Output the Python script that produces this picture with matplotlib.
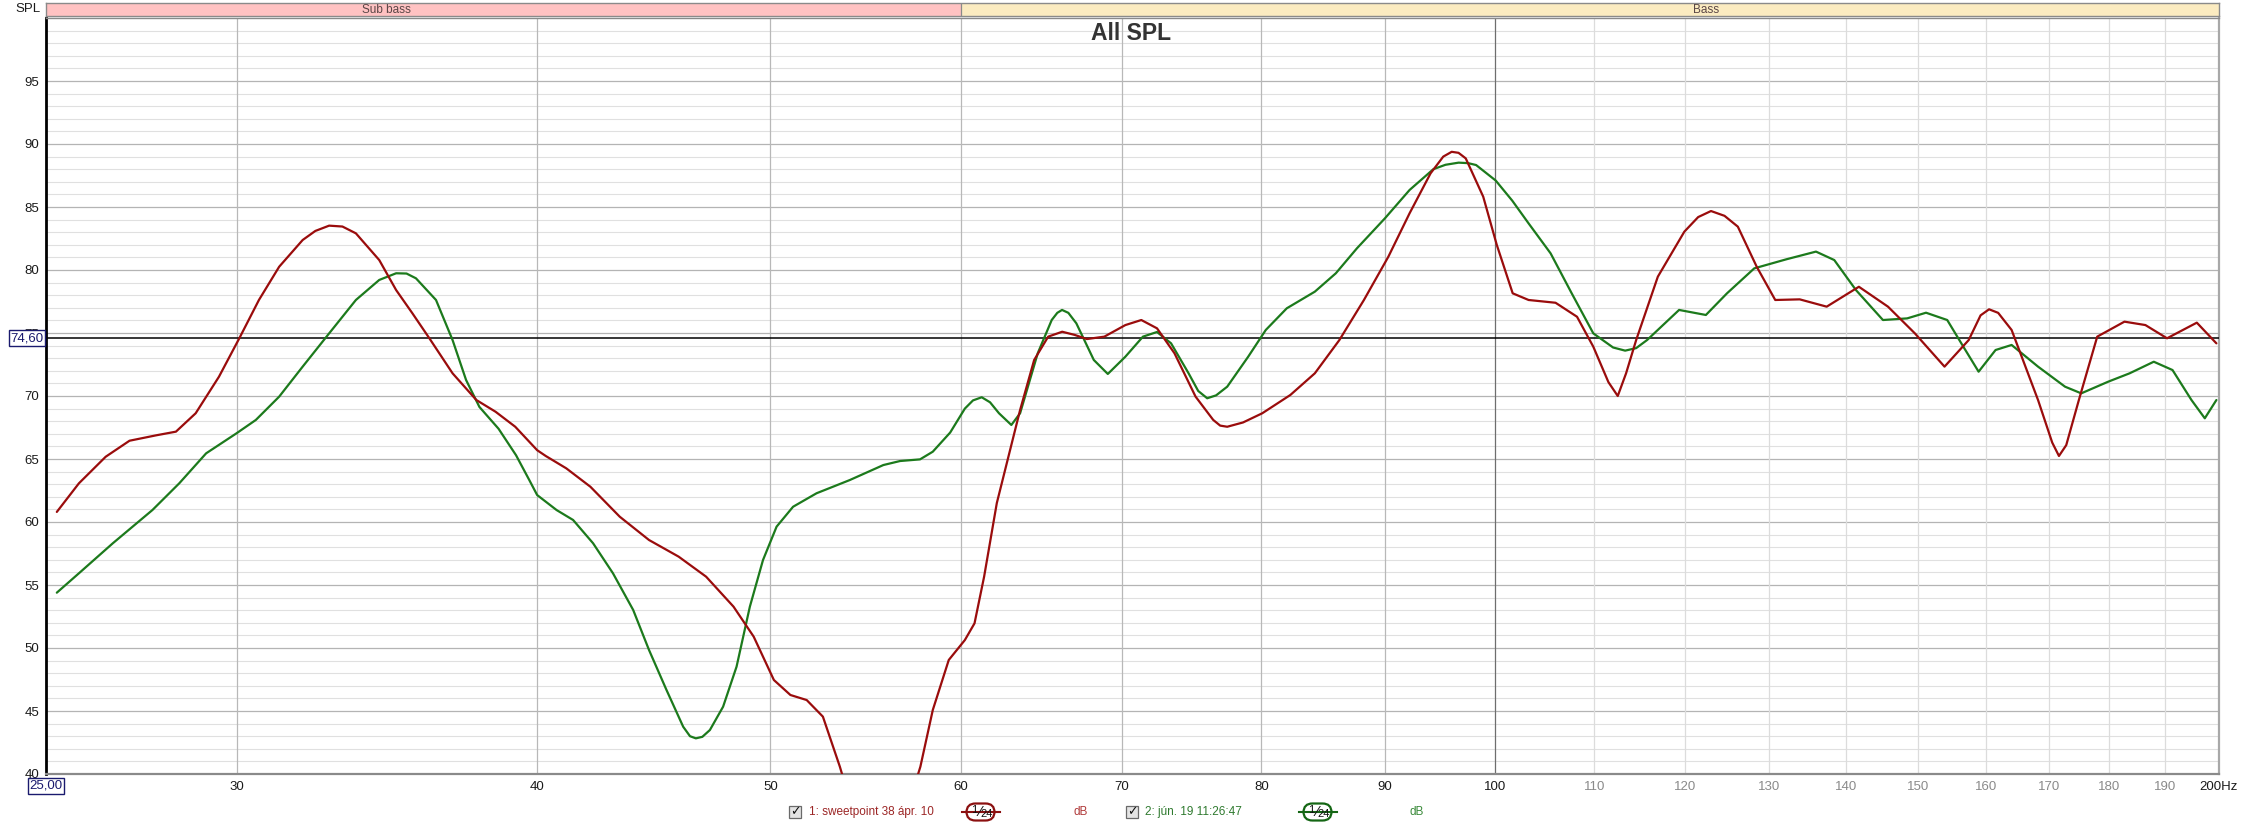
import matplotlib
matplotlib.use('Agg')
import matplotlib.pyplot as plt
from matplotlib.patches import Rectangle, FancyBboxPatch
from matplotlib.lines import Line2D
from matplotlib.ticker import NullLocator, NullFormatter

# ---------------- data ----------------
freq_1 = [25.26, 25.8, 26.47, 27.08, 27.78, 28.31, 28.85, 29.5, 30.08, 30.65, 31.25, 31.96,
          32.35, 32.78, 33.2, 33.63, 34.39, 34.95, 35.5, 36.08, 36.89, 37.74, 38.44, 39.17,
          40.0, 40.33, 41.13, 42.09, 43.29, 44.52, 45.8, 47.02, 48.27, 49.21, 50.17, 50.97,
          51.77, 52.58, 53.44, 55.5, 57.72, 58.41, 59.31, 60.23, 60.79, 61.35, 62.1, 63.5,
          64.36, 65.23, 66.11, 66.9, 67.69, 68.83, 70.23, 71.31, 72.39, 73.61, 75.11, 76.39,
          76.9, 77.42, 78.6, 80.06, 82.24, 84.19, 86.19, 88.24, 90.33, 92.18, 94.05, 95.2,
          95.97, 96.6, 97.27, 98.91, 100.2, 101.74, 103.3, 106.0, 108.2, 109.9, 111.5, 112.5,
          113.4, 114.5, 116.9, 119.9, 121.5, 123.0, 124.6, 126.2, 128.5, 130.8, 133.9, 137.4,
          141.7, 145.7, 149.5, 153.8, 157.4, 159.2, 160.5, 161.9, 164.0, 168.2, 170.5, 171.6,
          172.8, 174.9, 178.0, 182.7, 186.4, 190.3, 195.8, 199.5]
spl_1 = [60.8, 63.07, 65.18, 66.45, 66.88, 67.17, 68.63, 71.53, 74.58, 77.62, 80.26, 82.38,
         83.1, 83.52, 83.45, 82.91, 80.79, 78.41, 76.56, 74.58, 71.8, 69.68, 68.75, 67.56,
         65.7, 65.24, 64.26, 62.8, 60.42, 58.57, 57.25, 55.66, 53.28, 50.9, 47.46, 46.27,
         45.87, 44.55, 40.58, 30.0, 40.58, 45.08, 49.05, 50.63, 51.96, 55.66, 61.5, 68.89,
         72.86, 74.71, 75.1, 74.85, 74.52, 74.71, 75.63, 76.03, 75.37, 73.39, 69.95, 68.1,
         67.65, 67.56, 67.9, 68.63, 70.08, 71.8, 74.44, 77.62, 81.06, 84.5, 87.67, 89.0,
         89.38, 89.3, 88.86, 85.82, 82.0, 78.15, 77.62, 77.4, 76.29, 73.91, 71.1, 70.0,
         71.8, 74.44, 79.47, 83.04, 84.2, 84.68, 84.3, 83.44, 80.26, 77.62, 77.67, 77.09,
         78.67, 77.09, 74.97, 72.33, 74.44, 76.4, 76.88, 76.6, 75.24, 69.68, 66.3, 65.24,
         66.1, 69.68, 74.71, 75.9, 75.63, 74.58, 75.82, 74.18]

freq_2 = [25.26, 25.8, 26.65, 27.68, 28.4, 29.14, 30.0, 30.56, 31.25, 31.96, 32.78, 33.63,
          34.39, 34.95, 35.3, 35.62, 36.31, 36.89, 37.37, 37.85, 38.55, 39.2, 39.7, 40.0,
          40.75, 41.4, 42.2, 43.01, 43.85, 44.52, 45.27, 46.0, 46.3, 46.56, 46.85, 47.19,
          47.79, 48.41, 49.03, 49.65, 50.3, 51.1, 52.26, 53.95, 55.71, 56.61, 57.7, 58.41,
          59.39, 60.23, 60.7, 61.21, 61.7, 62.23, 62.97, 63.5, 64.58, 65.45, 65.8, 66.1,
          66.5, 67.01, 68.14, 69.06, 70.23, 71.42, 72.39, 73.37, 74.61, 75.3, 75.95, 76.6,
          77.42, 78.99, 80.33, 81.96, 84.19, 85.9, 87.65, 90.03, 92.18, 94.3, 95.4, 96.61,
          97.5, 98.24, 100.1, 101.7, 103.3, 105.5, 107.65, 109.9, 112.0, 113.3, 114.5, 115.7,
          119.3, 122.4, 124.9, 128.2, 132.2, 136.0, 138.4, 141.3, 145.0, 148.4, 151.1, 154.2,
          156.6, 158.9, 161.5, 164.0, 168.2, 172.6, 175.3, 179.9, 183.6, 187.9, 191.3, 194.8,
          197.3, 199.5]
spl_2 = [54.39, 55.93, 58.31, 60.95, 63.07, 65.45, 67.04, 68.1, 69.95, 72.33, 74.97, 77.62,
         79.21, 79.74, 79.72, 79.34, 77.62, 74.44, 71.27, 69.13, 67.4, 65.3, 63.33, 62.14,
         60.95, 60.16, 58.31, 55.93, 53.02, 49.84, 46.67, 43.75, 43.0, 42.83, 42.95, 43.49,
         45.34, 48.52, 53.28, 56.98, 59.63, 61.21, 62.28, 63.33, 64.52, 64.84, 64.97, 65.58,
         67.1, 69.0, 69.65, 69.9, 69.5, 68.63, 67.7, 68.63, 73.39, 76.03, 76.6, 76.83,
         76.6, 75.77, 72.86, 71.75, 73.12, 74.71, 75.08, 74.18, 71.8, 70.4, 69.82, 70.05,
         70.74, 73.12, 75.24, 76.96, 78.28, 79.74, 81.72, 84.1, 86.35, 88.0, 88.35, 88.52,
         88.48, 88.33, 87.1, 85.5, 83.7, 81.32, 78.15, 74.97, 73.85, 73.6, 73.8, 74.44,
         76.83, 76.43, 78.15, 80.13, 80.85, 81.46, 80.79, 78.41, 76.03, 76.16, 76.61, 76.03,
         73.91, 71.93, 73.65, 74.05, 72.33, 70.74, 70.21, 71.14, 71.8, 72.72, 72.06, 69.68,
         68.23, 69.68]

x_ticks = [30, 40, 50, 60, 70, 80, 90, 100, 110, 120, 130, 140, 150, 160, 170, 180, 190, 200]
x_tick_labels = ['30', '40', '50', '60', '70', '80', '90', '100', '110', '120', '130', '140',
                 '150', '160', '170', '180', '190', '200Hz']
y_ticks = [40, 45, 50, 55, 60, 65, 70, 75, 80, 85, 90, 95]
y_tick_labels = ['40', '45', '50', '55', '60', '65', '70', '75', '80', '85', '90', '95']
band_names = ['Sub bass', 'Bass']
band_lo = [20, 60]
band_hi = [60, 250]
ref_level = 74.60
series_names = ['1: sweetpoint 38 ápr. 10', '2: jún. 19 11:26:47']
title = 'All SPL'

# ---------------- layout ----------------
W, H, DPI = 2241, 826, 100
plt.rcParams['font.family'] = ['Liberation Sans', 'DejaVu Sans']
fig = plt.figure(figsize=(W / DPI, H / DPI), dpi=DPI)
fig.patch.set_facecolor('white')


def fx(x):
    return x / W


def fy(y):
    return 1 - y / H


L, R, T, B = 46, 2219, 18, 774
ax = fig.add_axes([fx(L), fy(B), (R - L) / W, (B - T) / H])
ax.set_xscale('log')
ax.set_xlim(25, 200)
ax.set_ylim(40, 100)

# grid
for v in range(41, 100):
    if v % 5:
        ax.axhline(v, color='#e0e0e0', lw=0.8, zorder=1)
for v in range(45, 100, 5):
    ax.axhline(v, color='#b4b4b4', lw=0.9, zorder=1.2)
for f in x_ticks[:-1]:
    if f < 100:
        c = '#b8b8b8'
    elif f == 100:
        c = '#6e6e6e'
    else:
        c = '#dcdcdc'
    ax.axvline(f, color=c, lw=0.9, zorder=1.3)

ax.axhline(ref_level, color='black', lw=1.1, zorder=4)

col1 = '#9a0c0c'
col2 = '#1c7a1c'
ax.plot(freq_1, spl_1, color=col1, lw=1.6, zorder=6, solid_joinstyle='round',
        solid_capstyle='round')
ax.plot(freq_2, spl_2, color=col2, lw=1.6, zorder=5, solid_joinstyle='round',
        solid_capstyle='round')

ax.xaxis.set_minor_locator(NullLocator())
ax.xaxis.set_minor_formatter(NullFormatter())
ax.set_xticks(x_ticks)
ax.set_xticklabels(x_tick_labels)
ax.set_yticks(y_ticks)
ax.set_yticklabels(y_tick_labels)
ax.tick_params(axis='both', length=0, labelsize=9.5)
ax.tick_params(axis='x', pad=5)
ax.tick_params(axis='y', pad=5)
for lbl, f in zip(ax.get_xticklabels(), x_ticks):
    lbl.set_color('#8a8a8a' if 100 < f < 200 else '#1a1a1a')
for lbl in ax.get_yticklabels():
    lbl.set_color('#1a1a1a')

ax.spines['left'].set_color('black')
ax.spines['left'].set_linewidth(2.0)
ax.spines['bottom'].set_color('#8a8a8a')
ax.spines['bottom'].set_linewidth(1.6)
ax.spines['right'].set_color('#a8a8a8')
ax.spines['right'].set_linewidth(1.6)
ax.spines['top'].set_color('#8a8a8a')
ax.spines['top'].set_linewidth(1.0)

# band bar
bax = fig.add_axes([fx(L), fy(16), (R - L) / W, 13 / H])
bax.set_xscale('log')
bax.set_xlim(25, 200)
bax.set_ylim(0, 1)
band_colors = ['#ffc2c2', '#fbebc0']
for lo, hi, name, c in zip(band_lo, band_hi, band_names, band_colors):
    bax.axvspan(lo, hi, color=c, lw=0)
    bax.axvline(lo, color='#8a8a8a', lw=0.9)
    bax.text((lo * hi) ** 0.5, 0.45, name, ha='center', va='center', fontsize=8.5,
             color='#5a4646')
bax.set_xticks([])
bax.set_yticks([])
bax.xaxis.set_minor_locator(NullLocator())
for s in bax.spines.values():
    s.set_color('#8a8a8a')
    s.set_linewidth(1.0)

# texts
fig.text(fx(41), fy(8.5), 'SPL', ha='right', va='center', fontsize=9.5, color='#1a1a1a')
fig.text(fx(1131), fy(33), title, ha='center', va='center', fontsize=16.5,
         fontweight='bold', color='#333333')
navy = '#1a1a6e'
fig.text(fx(27), fy(338), '74,60', ha='center', va='center', fontsize=9.5, color=navy,
         bbox=dict(boxstyle='square,pad=0.12', fc='white', ec=navy, lw=1.0), zorder=10)
fig.text(fx(46), fy(786), '25,00', ha='center', va='center', fontsize=9.5, color=navy,
         bbox=dict(boxstyle='square,pad=0.12', fc='white', ec=navy, lw=1.0), zorder=10)

# legend row
ly = 812


def checkbox(cx):
    s = 12
    fig.add_artist(Rectangle((fx(cx - s / 2), fy(ly + s / 2)), s / W, s / H,
                             transform=fig.transFigure, fc='#e4e4e4', ec='#6a6a6a', lw=0.9))
    fig.text(fx(cx + 0.5), fy(ly), '✓', ha='center', va='center', fontsize=9,
             fontweight='bold', color='#111111', family='DejaVu Sans')


def frac_box(cx, color):
    bw, bh = 28, 17
    fig.add_artist(Line2D([fx(cx - 19), fx(cx + 19)], [fy(ly), fy(ly)],
                          transform=fig.transFigure, color=color, lw=1.5))
    fig.add_artist(FancyBboxPatch((fx(cx - bw / 2), fy(ly + bh / 2)), bw / W, bh / H,
                                  boxstyle='round,pad=0,rounding_size=0.004',
                                  transform=fig.transFigure, fc='white', ec=color, lw=1.6,
                                  mutation_aspect=W / H))
    fig.text(fx(cx - 6), fy(ly - 2), '1', ha='center', va='center', fontsize=8,
             color='#111111')
    fig.text(fx(cx - 1), fy(ly), '⁄', ha='center', va='center', fontsize=10,
             color='#111111', family=['DejaVu Sans'])
    fig.text(fx(cx + 6), fy(ly + 2), '24', ha='center', va='center', fontsize=8,
             color='#111111')


tcol1 = '#9c2626'
tcol2 = '#2f7a2f'
checkbox(794.5)
fig.text(fx(809), fy(ly), series_names[0], ha='left', va='center', fontsize=8.5, color=tcol1)
frac_box(980.5, '#8b1010')
fig.text(fx(1081), fy(ly), 'dB', ha='center', va='center', fontsize=8.5, color='#b03a3a')
checkbox(1131.5)
fig.text(fx(1145), fy(ly), series_names[1], ha='left', va='center', fontsize=8.5, color=tcol2)
frac_box(1317.5, '#146614')
fig.text(fx(1417), fy(ly), 'dB', ha='center', va='center', fontsize=8.5, color='#3a8a3a')

fig.savefig('out.png', dpi=DPI, facecolor='white')
